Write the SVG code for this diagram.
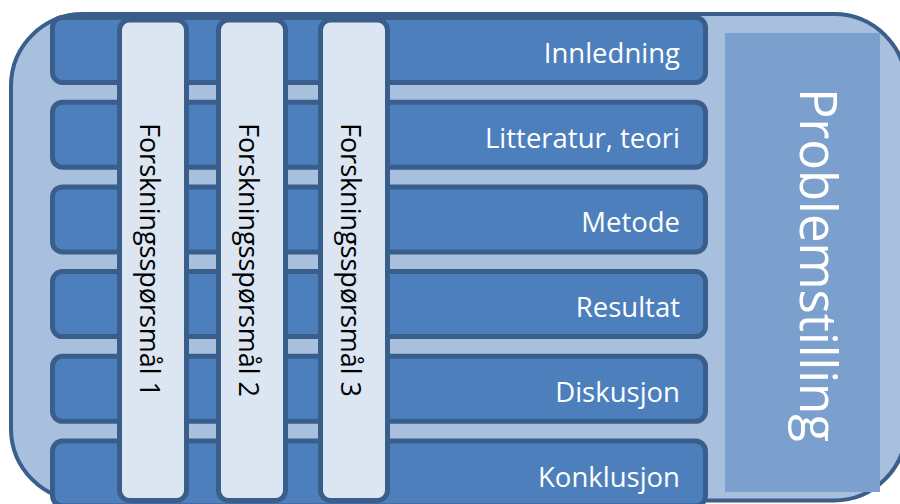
<svg xmlns="http://www.w3.org/2000/svg" width="900" height="504" viewBox="0 0 900 504">
<style>
.outer{fill:#a8c0de;stroke:#3b5f8c;stroke-width:4}
.panel{fill:#7ba0cd}
.hbar{fill:#4c7fbc;stroke:#3a5e8b;stroke-width:5}
.vbar{fill:#dce6f2;stroke:#3a5e8b;stroke-width:5}
.hl{font-family:"Open Sans","Noto Sans","DejaVu Sans",sans-serif;font-size:27.5px;fill:#ffffff;text-anchor:end}
.vl{font-family:"Open Sans","Noto Sans","DejaVu Sans",sans-serif;font-size:27px;fill:#000000}
.pl{font-family:"Open Sans","Noto Sans","DejaVu Sans",sans-serif;font-size:51px;fill:#ffffff}
</style>
<g id="frame">
<rect class="outer" x="11" y="14" width="895" height="486.5" rx="72" ry="72"/>
</g>
<g id="problemstilling">
<rect class="panel" x="725" y="33" width="155" height="459"/>
<text class="pl" transform="translate(800,88) rotate(90)" textLength="354" lengthAdjust="spacing">Problemstilling</text>
</g>
<g id="innledning">
<rect class="hbar" x="52.5" y="17.5" width="653" height="65" rx="10"/>
<text class="hl" x="680" y="63">Innledning</text>
</g>
<g id="litteratur">
<rect class="hbar" x="52.5" y="102.2" width="653" height="65" rx="10"/>
<text class="hl" x="680" y="147.7">Litteratur, teori</text>
</g>
<g id="metode">
<rect class="hbar" x="52.5" y="186.9" width="653" height="65" rx="10"/>
<text class="hl" x="680" y="232.4">Metode</text>
</g>
<g id="resultat">
<rect class="hbar" x="52.5" y="271.6" width="653" height="65" rx="10"/>
<text class="hl" x="680" y="317">Resultat</text>
</g>
<g id="diskusjon">
<rect class="hbar" x="52.5" y="356.3" width="653" height="65" rx="10"/>
<text class="hl" x="680" y="401.8">Diskusjon</text>
</g>
<g id="konklusjon">
<rect class="hbar" x="52.5" y="441" width="653" height="65" rx="10"/>
<text class="hl" x="680" y="486.5">Konklusjon</text>
</g>
<g id="fs1">
<rect class="vbar" x="119.5" y="20" width="67" height="480.5" rx="10"/>
<text class="vl" transform="translate(140,123) rotate(90)" textLength="274" lengthAdjust="spacing">Forskningsspørsmål 1</text>
</g>
<g id="fs2">
<rect class="vbar" x="218.5" y="20" width="67" height="480.5" rx="10"/>
<text class="vl" transform="translate(239,123) rotate(90)" textLength="274" lengthAdjust="spacing">Forskningsspørsmål 2</text>
</g>
<g id="fs3">
<rect class="vbar" x="320.5" y="20" width="67" height="480.5" rx="10"/>
<text class="vl" transform="translate(341,123) rotate(90)" textLength="274" lengthAdjust="spacing">Forskningsspørsmål 3</text>
</g>
<g id="connectors"/>
</svg>
